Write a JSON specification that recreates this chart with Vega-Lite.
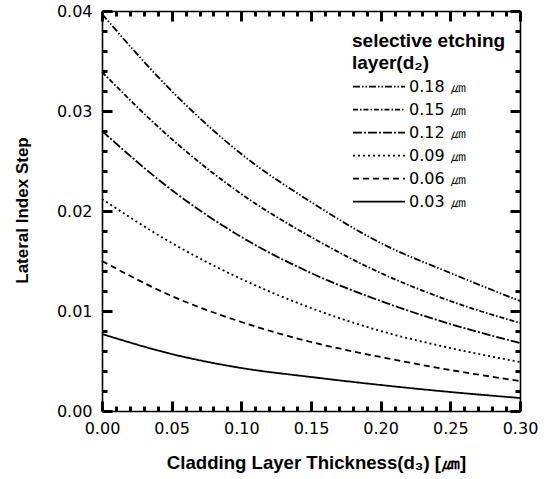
{
  "$schema": "https://vega.github.io/schema/vega-lite/v6.json",
  "width": 418,
  "height": 400,
  "autosize": {"type": "none"},
  "padding": {"left": 102, "top": 11, "right": 33, "bottom": 68},
  "background": "white",
  "config": {
    "view": {"stroke": null},
    "font": "Liberation Sans",
    "axis": {
      "domainColor": "black",
      "domainWidth": 1.6,
      "labelColor": "black",
      "titleColor": "black",
      "grid": false,
      "labelOverlap": false,
      "labelFont": "DejaVu Sans",
      "labelFontSize": 16,
      "titleFont": "Liberation Sans",
      "titleFontWeight": "bold"
    }
  },
  "data": {
    "values": [
      {"d2": "0.18", "x": 0.00, "y": 0.0397},
      {"d2": "0.18", "x": 0.05, "y": 0.0320},
      {"d2": "0.18", "x": 0.10, "y": 0.0257},
      {"d2": "0.18", "x": 0.15, "y": 0.0209},
      {"d2": "0.18", "x": 0.20, "y": 0.0168},
      {"d2": "0.18", "x": 0.25, "y": 0.0138},
      {"d2": "0.18", "x": 0.30, "y": 0.0110},
      {"d2": "0.15", "x": 0.00, "y": 0.0339},
      {"d2": "0.15", "x": 0.05, "y": 0.0272},
      {"d2": "0.15", "x": 0.10, "y": 0.0217},
      {"d2": "0.15", "x": 0.15, "y": 0.0174},
      {"d2": "0.15", "x": 0.20, "y": 0.0138},
      {"d2": "0.15", "x": 0.25, "y": 0.0110},
      {"d2": "0.15", "x": 0.30, "y": 0.0088},
      {"d2": "0.12", "x": 0.00, "y": 0.0280},
      {"d2": "0.12", "x": 0.05, "y": 0.0221},
      {"d2": "0.12", "x": 0.10, "y": 0.0174},
      {"d2": "0.12", "x": 0.15, "y": 0.0138},
      {"d2": "0.12", "x": 0.20, "y": 0.0110},
      {"d2": "0.12", "x": 0.25, "y": 0.0087},
      {"d2": "0.12", "x": 0.30, "y": 0.0068},
      {"d2": "0.09", "x": 0.00, "y": 0.0212},
      {"d2": "0.09", "x": 0.05, "y": 0.0168},
      {"d2": "0.09", "x": 0.10, "y": 0.0132},
      {"d2": "0.09", "x": 0.15, "y": 0.0103},
      {"d2": "0.09", "x": 0.20, "y": 0.0080},
      {"d2": "0.09", "x": 0.25, "y": 0.0063},
      {"d2": "0.09", "x": 0.30, "y": 0.0049},
      {"d2": "0.06", "x": 0.00, "y": 0.0150},
      {"d2": "0.06", "x": 0.05, "y": 0.0115},
      {"d2": "0.06", "x": 0.10, "y": 0.0089},
      {"d2": "0.06", "x": 0.15, "y": 0.0069},
      {"d2": "0.06", "x": 0.20, "y": 0.0054},
      {"d2": "0.06", "x": 0.25, "y": 0.0041},
      {"d2": "0.06", "x": 0.30, "y": 0.0030},
      {"d2": "0.03", "x": 0.00, "y": 0.0077},
      {"d2": "0.03", "x": 0.05, "y": 0.0057},
      {"d2": "0.03", "x": 0.10, "y": 0.0043},
      {"d2": "0.03", "x": 0.15, "y": 0.0034},
      {"d2": "0.03", "x": 0.20, "y": 0.0026},
      {"d2": "0.03", "x": 0.25, "y": 0.0019},
      {"d2": "0.03", "x": 0.30, "y": 0.0013}
    ]
  },
  "layer": [
    {
      "mark": {"type": "line", "interpolate": "monotone", "color": "black", "strokeWidth": 1.8},
      "encoding": {
        "x": {
          "field": "x", "type": "quantitative",
          "scale": {"domain": [0, 0.3], "nice": false, "zero": false},
          "axis": {
            "orient": "bottom",
            "values": [0, 0.05, 0.1, 0.15, 0.2, 0.25, 0.3],
            "format": ".2f",
            "tickSize": -10,
            "tickColor": "#000000",
            "tickWidth": 3,
            "labelPadding": 19,
            "labelFlush": false,
            "title": "Cladding Layer Thickness(d₃) [㎛]",
            "titleFontSize": 18.6,
            "titleX": 214,
            "titleY": 51,
            "titleBaseline": "middle"
          }
        },
        "y": {
          "field": "y", "type": "quantitative",
          "scale": {"domain": [0, 0.04], "nice": false, "zero": false},
          "axis": {
            "orient": "left",
            "values": [0, 0.01, 0.02, 0.03, 0.04],
            "format": ".2f",
            "tickSize": -10,
            "tickColor": "#000000",
            "tickWidth": 3,
            "labelPadding": 20,
            "labelFlush": false,
            "title": "Lateral Index Step",
            "titleFontSize": 17,
            "titleX": -80,
            "titleY": 199,
            "titleAngle": -90,
            "titleAlign": "center",
            "titleBaseline": "middle"
          }
        },
        "strokeDash": {
          "field": "d2", "type": "nominal",
          "scale": {
            "domain": ["0.18", "0.15", "0.12", "0.09", "0.06", "0.03"],
            "range": [[7, 2, 1.5, 2, 1.5, 2], [5, 2, 1.5, 2], [9, 2, 2, 2], [2, 3], [6, 4], [1, 0]]
          },
          "legend": {
            "orient": "none",
            "legendX": 250,
            "legendY": 20.5,
            "title": ["selective etching", "layer(d₂)"],
            "titleFont": "Liberation Sans",
            "titleFontSize": 19,
            "titleFontWeight": "bold",
            "titleLineHeight": 22.6,
            "titleColor": "black",
            "titlePadding": 2,
            "labelFont": "DejaVu Sans",
            "labelFontSize": 16,
            "labelColor": "black",
            "labelExpr": "datum.label + ' ㎛'",
            "symbolType": "stroke",
            "symbolSize": 2704,
            "symbolStrokeWidth": 1.8,
            "symbolStrokeColor": "black",
            "clipHeight": 23,
            "rowPadding": 0,
            "labelOffset": 3,
            "padding": 0
          }
        }
      }
    },
    {
      "mark": {"type": "line", "opacity": 0},
      "encoding": {
        "x": {
          "field": "x", "type": "quantitative",
          "axis": {"orient": "bottom", "values": [0.01,0.02,0.03,0.04,0.06,0.07,0.08,0.09,0.11,0.12,0.13,0.14,0.16,0.17,0.18,0.19,0.21,0.22,0.23,0.24,0.26,0.27,0.28,0.29], "labels": false, "domain": false, "title": null, "tickSize": -5, "tickColor": "#000000", "tickWidth": 3}
        },
        "y": {
          "field": "y", "type": "quantitative",
          "axis": {"orient": "left", "values": [0.002,0.004,0.006,0.008,0.012,0.014,0.016,0.018,0.022,0.024,0.026,0.028,0.032,0.034,0.036,0.038], "labels": false, "domain": false, "title": null, "tickSize": -5, "tickColor": "#000000", "tickWidth": 3}
        },
        "detail": {"field": "d2", "type": "nominal"}
      }
    },
    {
      "mark": {"type": "line", "opacity": 0},
      "encoding": {
        "x": {
          "field": "x", "type": "quantitative",
          "axis": {"orient": "top", "values": [0, 0.05, 0.1, 0.15, 0.2, 0.25, 0.3], "labels": false, "title": null, "tickSize": -10, "tickColor": "#000000", "tickWidth": 3}
        },
        "y": {
          "field": "y", "type": "quantitative",
          "axis": {"orient": "right", "values": [0, 0.01, 0.02, 0.03, 0.04], "labels": false, "title": null, "tickSize": -10, "tickColor": "#000000", "tickWidth": 3}
        },
        "detail": {"field": "d2", "type": "nominal"}
      }
    },
    {
      "mark": {"type": "line", "opacity": 0},
      "encoding": {
        "x": {
          "field": "x", "type": "quantitative",
          "axis": {"orient": "top", "values": [0.01,0.02,0.03,0.04,0.06,0.07,0.08,0.09,0.11,0.12,0.13,0.14,0.16,0.17,0.18,0.19,0.21,0.22,0.23,0.24,0.26,0.27,0.28,0.29], "labels": false, "domain": false, "title": null, "tickSize": -5, "tickColor": "#000000", "tickWidth": 3}
        },
        "y": {
          "field": "y", "type": "quantitative",
          "axis": {"orient": "right", "values": [0.002,0.004,0.006,0.008,0.012,0.014,0.016,0.018,0.022,0.024,0.026,0.028,0.032,0.034,0.036,0.038], "labels": false, "domain": false, "title": null, "tickSize": -5, "tickColor": "#000000", "tickWidth": 3}
        },
        "detail": {"field": "d2", "type": "nominal"}
      }
    }
  ],
  "resolve": {"axis": {"x": "independent", "y": "independent"}}
}
